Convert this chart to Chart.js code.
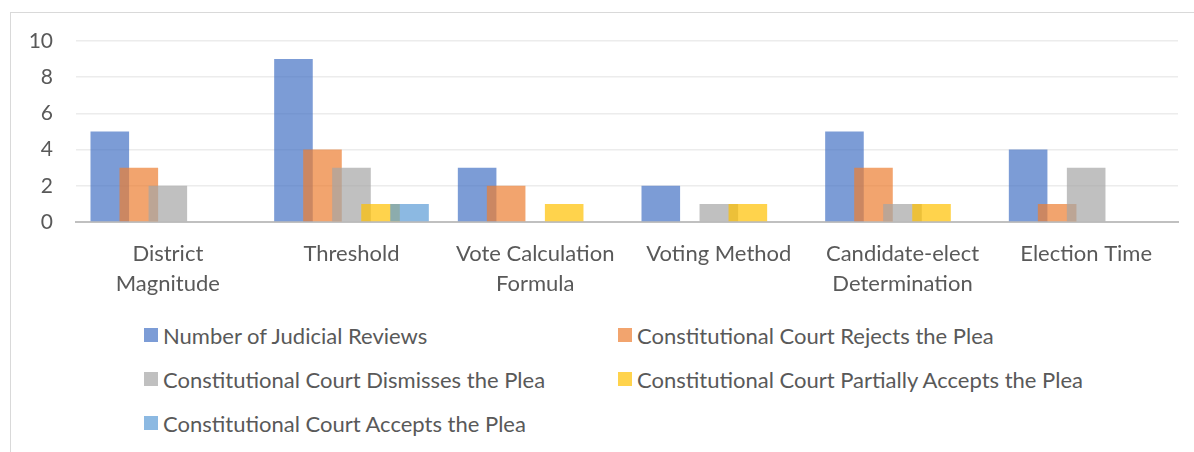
<!DOCTYPE html>
<html>
<head>
<meta charset="utf-8">
<script src="https://cdn.jsdelivr.net/npm/chart.js@4"></script>
<style>
  body { margin: 0; background: #fff; font-family: Lato, sans-serif; }
  #frame {
    position: absolute; left: 10px; top: 12px; width: 1200px; height: 460px;
    border: 1px solid #d9d9d9; box-sizing: border-box;
  }
  #chartBox { position: absolute; left: 0; top: 0; width: 1194px; height: 310px; }
  #legend {
    position: absolute; left: 144px; top: 321px;
    display: grid; grid-template-columns: 474px 500px; row-gap: 16px;
  }
  .item { display: flex; align-items: center; height: 28px; white-space: nowrap; }
  .box { width: 14px; height: 14px; margin-right: 5px; flex: none; }
  .label { color: #595959; font-size: 22px; }
</style>
</head>
<body>
<div id="frame"></div>
<div id="chartBox"><canvas id="chart" width="1194" height="310"></canvas></div>
<div id="legend"></div>
<script>
// categories (multi-line tick labels)
const categories = [
  ["District", "Magnitude"],
  ["Threshold"],
  ["Vote Calculation", "Formula"],
  ["Voting Method"],
  ["Candidate-elect", "Determination"],
  ["Election Time"],
];

const seriesNames = [
  "Number of Judicial Reviews",
  "Constitutional Court Rejects the Plea",
  "Constitutional Court Dismisses the Plea",
  "Constitutional Court Partially Accepts the Plea",
  "Constitutional Court Accepts the Plea",
];

const judicialReviews = [5, 9, 3, 2, 5, 4];
const rejects = [3, 4, 2, 0, 3, 1];
const dismisses = [2, 3, 0, 1, 1, 3];
const partiallyAccepts = [0, 1, 1, 1, 1, 0];
const accepts = [0, 1, 0, 0, 0, 0];

const yTicks = [0, 2, 4, 6, 8, 10];

const seriesValues = [judicialReviews, rejects, dismisses, partiallyAccepts, accepts];
const seriesColors = [
  "rgba(68, 114, 196, 0.7)",
  "rgba(237, 125, 49, 0.7)",
  "rgba(165, 165, 165, 0.7)",
  "rgba(255, 192, 0, 0.7)",
  "rgba(91, 155, 213, 0.7)",
];

// Excel draws later series over earlier ones
const drawInOrder = {
  id: "drawInOrder",
  beforeDatasetsDraw(chart) {
    chart.getSortedVisibleDatasetMetas().forEach((meta) => meta.controller.draw());
    return false;
  },
};

const ctx = document.getElementById("chart").getContext("2d");
new Chart(ctx, {
  type: "bar",
  data: {
    labels: categories,
    datasets: seriesNames.map((name, i) => ({
      label: name,
      data: seriesValues[i],
      backgroundColor: seriesColors[i],
      borderWidth: 0,
      barPercentage: 1.33,
      categoryPercentage: 0.79,
    })),
  },
  options: {
    responsive: false,
    animation: false,
    layout: { padding: { left: 0, right: 16, top: 41, bottom: 0 } },
    plugins: { legend: { display: false }, tooltip: { enabled: false } },
    scales: {
      x: {
        grid: { display: false, drawTicks: false },
        border: { color: "#c0c0c0", width: 2 },
        ticks: {
          color: "#595959",
          font: { family: "Lato", size: 22, lineHeight: 1.36 },
          padding: 17,
          maxRotation: 0,
          autoSkip: false,
        },
        afterFit(scale) { scale.height = 88; },
      },
      y: {
        min: yTicks[0],
        max: yTicks[yTicks.length - 1],
        afterBuildTicks(scale) { scale.ticks = yTicks.map((v) => ({ value: v })); },
        grid: { color: "#ececec", lineWidth: 1.5, drawTicks: false },
        border: { display: false },
        ticks: {
          color: "#595959",
          font: { family: "Lato", size: 21 },
          padding: 23,
        },
        afterFit(scale) { scale.width = 76; },
      },
    },
  },
  plugins: [drawInOrder],
});

// legend laid out in two columns like the original
const legend = document.getElementById("legend");
seriesNames.forEach((name, i) => {
  const item = document.createElement("div");
  item.className = "item";
  const box = document.createElement("span");
  box.className = "box";
  box.style.background = seriesColors[i];
  const label = document.createElement("span");
  label.className = "label";
  label.textContent = name;
  item.appendChild(box);
  item.appendChild(label);
  legend.appendChild(item);
});
</script>
</body>
</html>
